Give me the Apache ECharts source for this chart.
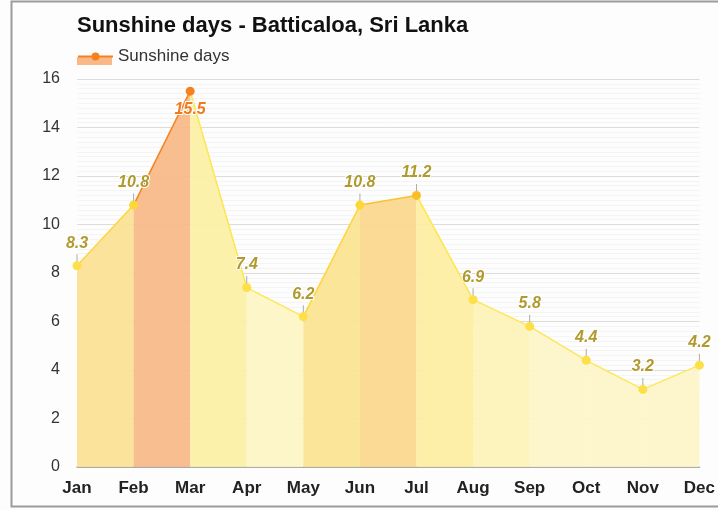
<!DOCTYPE html>
<html>
<head>
<meta charset="utf-8">
<script src="https://cdn.jsdelivr.net/npm/echarts@6/dist/echarts.min.js"></script>
<style>
  html, body { margin: 0; padding: 0; background: #ffffff; }
  #chart { width: 718px; height: 510px; }
</style>
</head>
<body>
<div id="chart"></div>
<script>
// Monthly sunshine days
const months = ['Jan', 'Feb', 'Mar', 'Apr', 'May', 'Jun', 'Jul', 'Aug', 'Sep', 'Oct', 'Nov', 'Dec'];
const sunshineDays = [8.3, 10.8, 15.5, 7.4, 6.2, 10.8, 11.2, 6.9, 5.8, 4.4, 3.2, 4.2];

// Band colours for each month-to-month segment (area fill, line)
const bandFill = ['#fbe194', '#f9b886', '#fcf0a4', '#fdf5c4', '#fbe38f', '#fad78c',
                  '#fdee9f', '#fdf2b6', '#fdf5c8', '#fdf5c8', '#fdf5c8'];
const bandLine = ['#fdd63c', '#f5821f', '#fde64e', '#fde75a', '#fdd63c', '#f9c22e',
                  '#fde64e', '#fde75a', '#fde75a', '#fde75a', '#fde75a'];
const pointColor = ['#fde047', '#fdd835', '#f5821f', '#fde047', '#fde047', '#fdd835',
                    '#f9bf24', '#fde047', '#fde047', '#fde047', '#fde047', '#fde047'];

const chart = echarts.init(document.getElementById('chart'), null, { renderer: 'canvas' });

// One series per segment so every band can carry its own colours
const segmentSeries = bandFill.map((fill, i) => ({
  type: 'line',
  name: 'seg' + i,
  data: sunshineDays.map((v, j) => (j === i || j === i + 1) ? v : null),
  symbol: 'none',
  silent: true,
  lineStyle: { color: bandLine[i], width: 1.5 },
  areaStyle: { color: fill, opacity: 0.92 },
  z: 2,
  animation: false
}));

// Small grey ticks between each point and its value label
const tickSeries = {
  type: 'scatter',
  name: 'ticks',
  data: sunshineDays.map((v, j) => j === 2 ? null : v),
  symbol: 'rect',
  symbolSize: [1, 9],
  symbolOffset: [0, -7],
  itemStyle: { color: '#9a9a9a' },
  silent: true,
  z: 3,
  animation: false
};

const mainSeries = {
  type: 'line',
  name: 'Sunshine days',
  data: sunshineDays.map((v, j) => ({
    value: v,
    itemStyle: { color: pointColor[j] },
    label: j === 2
      ? { position: 'bottom', distance: 6, color: '#f07a1f' }
      : { position: 'top', distance: 10, color: '#b09a2e' }
  })),
  symbol: 'circle',
  symbolSize: 9,
  showSymbol: true,
  lineStyle: { opacity: 0 },
  itemStyle: { borderWidth: 0 },
  label: {
    show: true,
    fontFamily: 'Liberation Sans, Arial, sans-serif',
    fontSize: 16,
    fontStyle: 'italic',
    fontWeight: 'bold',
    textBorderColor: '#ffffff',
    textBorderWidth: 2,
    formatter: p => p.value.toFixed(1)
  },
  z: 4,
  animation: false
};

chart.setOption({
  backgroundColor: '#fcfdfc',
  textStyle: { fontFamily: 'Liberation Sans, Arial, sans-serif' },
  title: {
    text: 'Sunshine days - Batticaloa, Sri Lanka',
    left: 72,
    top: 10,
    textStyle: { fontSize: 22, fontWeight: 'bold', color: '#111' }
  },
  legend: {
    left: 72,
    top: 43,
    itemWidth: 35,
    itemHeight: 10,
    itemGap: 10,
    textStyle: { fontSize: 17, color: '#333' },
    data: [{
      name: 'Sunshine days',
      itemStyle: { color: '#f5821f' },
      lineStyle: { color: '#f5821f', width: 2, opacity: 1 }
    }]
  },
  graphic: [
    // frame around the chart
    { type: 'rect', shape: { x: 11.5, y: 1.5, width: 720, height: 505 },
      style: { fill: null, stroke: '#9b9b9b', lineWidth: 2 }, z: 100, silent: true },
    // area swatch under the legend line
    { type: 'rect', shape: { x: 77, y: 57, width: 35, height: 8 },
      style: { fill: '#f9b886' }, z: -1, silent: true }
  ],
  grid: { left: 77, right: 18, top: 79, bottom: 43 },
  xAxis: {
    type: 'category',
    data: months,
    boundaryGap: false,
    axisLine: { show: true, lineStyle: { color: '#9a9a9a', width: 1.5 } },
    axisTick: { show: false },
    axisLabel: { fontSize: 17, fontWeight: 'bold', color: '#222', margin: 13 },
    splitLine: { show: false }
  },
  yAxis: {
    type: 'value',
    min: 0,
    max: 16,
    interval: 2,
    axisLine: { show: false },
    axisTick: { show: false },
    axisLabel: { fontSize: 16, color: '#333', margin: 17 },
    splitLine: { show: true, lineStyle: { color: '#dcdcdc', width: 1 } },
    minorTick: { show: false, splitNumber: 10 },
    minorSplitLine: { show: true, lineStyle: { color: '#f4f4f4', width: 1 } }
  },
  series: [...segmentSeries, tickSeries, mainSeries]
});
</script>
</body>
</html>
